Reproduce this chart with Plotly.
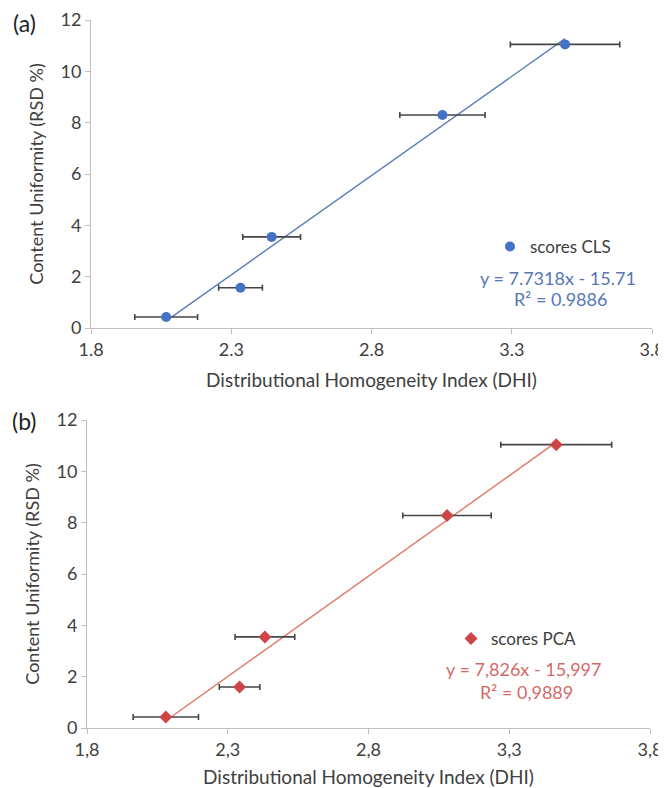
import numpy as np
import plotly.graph_objects as go

# ---------------- data ----------------
cls_x = [2.068, 2.333, 2.444, 3.053, 3.490]
cls_y = [0.43, 1.57, 3.55, 8.30, 11.05]
cls_xerr = [0.112, 0.078, 0.103, 0.152, 0.195]
cls_trend = [7.7318, -15.71]          # slope, intercept

pca_x = [2.080, 2.342, 2.432, 3.079, 3.467]
pca_y = [0.43, 1.60, 3.55, 8.28, 11.04]
pca_xerr = [0.116, 0.072, 0.106, 0.157, 0.197]
pca_trend = [7.826, -15.997]

x_ticks = [1.8, 2.3, 2.8, 3.3, 3.8]
x_labels_a = ["1.8", "2.3", "2.8", "3.3", "3.8"]
x_labels_b = ["1,8", "2,3", "2,8", "3,3", "3,8"]
y_ticks = [0, 2, 4, 6, 8, 10, 12]

eq_a = ["y = 7.7318x - 15.71", "R² = 0.9886"]
eq_b = ["y = 7,826x - 15,997", "R² = 0,9889"]

x_title = "Distributional Homogeneity Index (DHI)"
y_title = "Content Uniformity (RSD %)"

# ---------------- styles ----------------
FONT = "Lato, 'Open Sans', sans-serif"
TXT = "#404040"
BLUE = "#4472C4"
BLUE_LINE = "#5B7DB8"
BLUE_TXT = "#5777B6"
RED = "#CD4545"
RED_LINE = "#E07862"
RED_TXT = "#D36A6A"
ERR = "#454545"

# the page body keeps an 8px margin; the figure starts at (8, 8)
OFF = 8
W, H = 666 - OFF, 788 - OFF
def px(x):
    return (x - OFF) / W
def py(y):
    return (H - (y - OFF)) / H

fig = go.Figure()

def trend_pts(xs, coef):
    xx = np.array([min(xs), max(xs)])
    return xx, coef[0] * xx + coef[1]

# panel (a)
tx, ty = trend_pts(cls_x, cls_trend)
fig.add_trace(go.Scatter(x=tx, y=ty, mode="lines", line=dict(color=BLUE_LINE, width=1.4),
                         showlegend=False, hoverinfo="skip", xaxis="x", yaxis="y"))
fig.add_trace(go.Scatter(x=cls_x, y=cls_y, mode="markers", name="scores CLS",
                         marker=dict(symbol="circle", size=10, color=BLUE),
                         error_x=dict(type="data", array=cls_xerr, color=ERR, thickness=1.6, width=3),
                         xaxis="x", yaxis="y", legend="legend"))

# panel (b)
tx, ty = trend_pts(pca_x, pca_trend)
fig.add_trace(go.Scatter(x=tx, y=ty, mode="lines", line=dict(color=RED_LINE, width=1.4),
                         showlegend=False, hoverinfo="skip", xaxis="x2", yaxis="y2"))
fig.add_trace(go.Scatter(x=pca_x, y=pca_y, mode="markers", name="scores PCA",
                         marker=dict(symbol="diamond", size=10, color=RED),
                         error_x=dict(type="data", array=pca_xerr, color=ERR, thickness=1.6, width=3),
                         xaxis="x2", yaxis="y2", legend="legend2"))

axis_common = dict(showgrid=False, zeroline=False, showline=True, linecolor="#BFBFBF", linewidth=1,
                   ticks="outside", ticklen=5, tickcolor="#BFBFBF", tickwidth=1, automargin=False,
                   ticklabeloverflow="allow",
                   tickfont=dict(family=FONT, size=18, color=TXT))

xa = dict(axis_common, range=[1.8, 3.8], tickmode="array", tickvals=x_ticks)
ya = dict(axis_common, range=[0, 12], tickmode="array", tickvals=y_ticks)
xt_font = dict(family=FONT, size=19, color=TXT)
yt_font = dict(family=FONT, size=18, color=TXT)

fig.update_layout(
    width=W, height=H,
    margin=dict(l=0, r=0, t=0, b=0, autoexpand=False),
    paper_bgcolor="white", plot_bgcolor="white",
    font=dict(family=FONT, color=TXT),
    xaxis=dict(xa, domain=[px(91), px(652)], anchor="y", ticktext=x_labels_a,
               title=dict(text=x_title, standoff=15, font=xt_font)),
    yaxis=dict(ya, domain=[py(328), py(20)], anchor="x",
               title=dict(text=y_title, standoff=12, font=yt_font)),
    xaxis2=dict(xa, domain=[px(87), px(650)], anchor="y2", ticktext=x_labels_b,
                title=dict(text=x_title, standoff=13, font=xt_font)),
    yaxis2=dict(ya, domain=[py(728), py(420)], anchor="x2",
                title=dict(text=y_title, standoff=12, font=yt_font)),
    legend=dict(x=px(490), y=py(247), xanchor="left", yanchor="middle",
                bgcolor="rgba(0,0,0,0)", borderwidth=0,
                font=dict(family=FONT, size=17, color=TXT)),
    legend2=dict(x=px(451), y=py(639), xanchor="left", yanchor="middle",
                 bgcolor="rgba(0,0,0,0)", borderwidth=0,
                 font=dict(family=FONT, size=17, color=TXT)),
    showlegend=True,
)

ann = []
ann.append(dict(text="(a)", x=px(24), y=py(23), xref="paper", yref="paper", showarrow=False,
                xanchor="center", yanchor="middle",
                font=dict(family=FONT, size=23, color="#222222")))
ann.append(dict(text="(b)", x=px(24), y=py(421), xref="paper", yref="paper", showarrow=False,
                xanchor="center", yanchor="middle",
                font=dict(family=FONT, size=23, color="#222222")))
for (txt, cx, cy, col) in [(eq_a[0], 558, 278, BLUE_TXT), (eq_a[1], 560, 299, BLUE_TXT),
                           (eq_b[0], 524, 669, RED_TXT), (eq_b[1], 526, 692, RED_TXT)]:
    ann.append(dict(text=txt, x=px(cx), y=py(cy), xref="paper", yref="paper", showarrow=False,
                    xanchor="center", yanchor="middle",
                    font=dict(family=FONT, size=18, color=col)))
fig.update_layout(annotations=ann)

fig.write_html("out.html")
